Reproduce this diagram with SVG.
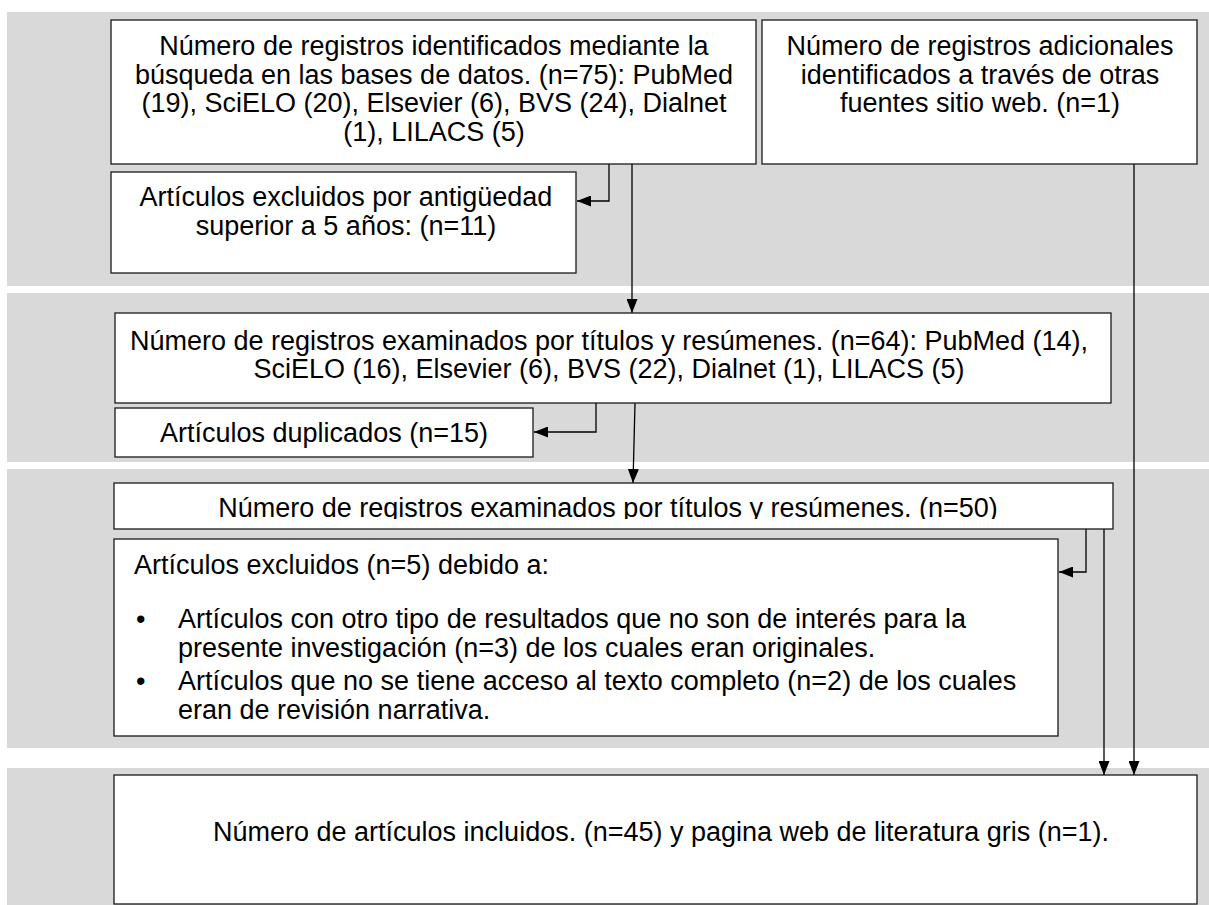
<svg xmlns="http://www.w3.org/2000/svg" width="1209" height="905" viewBox="0 0 1209 905">
<style>
.band{fill:#d9d9d9}
.box{fill:#fff;stroke:#1a1a1a;stroke-width:1.3}
.t{font-family:"Liberation Sans",Arial,sans-serif;font-size:27px;fill:#000}
.c{text-anchor:middle}
.ln{fill:none;stroke:#000;stroke-width:1.3}
</style>
<defs>
<marker id="ah" viewBox="0 0 14 11" refX="14" refY="5.5" markerWidth="14" markerHeight="11" markerUnits="userSpaceOnUse" orient="auto">
<path d="M0,0 L14,5.5 L0,11 z" fill="#000"/>
</marker>
<clipPath id="clip5"><rect x="114" y="483" width="999" height="36"/></clipPath>
</defs>
<rect width="1209" height="905" fill="#fff"/>
<g id="bands">
<rect class="band" x="7" y="12" width="1202" height="274"/>
<rect class="band" x="7" y="293" width="1202" height="169"/>
<rect class="band" x="7" y="469" width="1202" height="279"/>
<rect class="band" x="7" y="768" width="1202" height="137"/>
</g>
<g id="connectors">
<polyline class="ln" points="609,164 609,201 577,201" marker-end="url(#ah)"/>
<line class="ln" x1="632" y1="164" x2="632" y2="313" marker-end="url(#ah)"/>
<line class="ln" x1="1134" y1="164" x2="1134" y2="775" marker-end="url(#ah)"/>
<polyline class="ln" points="596,403 596,432 534,432" marker-end="url(#ah)"/>
<line class="ln" x1="635" y1="403" x2="633" y2="483" marker-end="url(#ah)"/>
<polyline class="ln" points="1086,529 1086,572 1059,572" marker-end="url(#ah)"/>
<line class="ln" x1="1104" y1="529" x2="1104" y2="775" marker-end="url(#ah)"/>
</g>
<g id="n1">
<rect class="box" x="111" y="20" width="645" height="144"/>
<text class="t c" x="434" y="55">Número de registros identificados mediante la</text>
<text class="t c" x="434" y="83.5">búsqueda en las bases de datos. (n=75): PubMed</text>
<text class="t c" x="434" y="112">(19), SciELO (20), Elsevier (6), BVS (24), Dialnet</text>
<text class="t c" x="434" y="140.5">(1), LILACS (5)</text>
</g>
<g id="n2">
<rect class="box" x="762" y="20" width="435" height="144"/>
<text class="t c" x="980" y="55">Número de registros adicionales</text>
<text class="t c" x="980" y="83.5">identificados a través de otras</text>
<text class="t c" x="980" y="112">fuentes sitio web. (n=1)</text>
</g>
<g id="n3">
<rect class="box" x="111" y="172" width="465" height="101"/>
<text class="t c" x="346" y="206">Artículos excluidos por antigüedad</text>
<text class="t c" x="346" y="234.5">superior a 5 años: (n=11)</text>
</g>
<g id="n4">
<rect class="box" x="115" y="313" width="996" height="90"/>
<text class="t c" x="609" y="350">Número de registros examinados por títulos y resúmenes. (n=64): PubMed (14),</text>
<text class="t c" x="609" y="378">SciELO (16), Elsevier (6), BVS (22), Dialnet (1), LILACS (5)</text>
</g>
<g id="n5">
<rect class="box" x="115" y="408" width="418" height="49"/>
<text class="t c" x="324" y="442">Artículos duplicados (n=15)</text>
</g>
<g id="n6">
<rect class="box" x="114" y="483" width="999" height="46"/>
<text class="t c" x="608" y="517" clip-path="url(#clip5)">Número de registros examinados por títulos y resúmenes. (n=50)</text>
</g>
<g id="n7">
<rect class="box" x="114" y="539" width="944" height="197"/>
<text class="t" x="134" y="574">Artículos excluidos (n=5) debido a:</text>
<text class="t" x="136" y="628">•</text>
<text class="t" x="178" y="628">Artículos con otro tipo de resultados que no son de interés para la</text>
<text class="t" x="178" y="657">presente investigación (n=3) de los cuales eran originales.</text>
<text class="t" x="136" y="690">•</text>
<text class="t" x="178" y="690">Artículos que no se tiene acceso al texto completo (n=2) de los cuales</text>
<text class="t" x="178" y="719">eran de revisión narrativa.</text>
</g>
<g id="n8">
<rect class="box" x="114" y="775" width="1083" height="129"/>
<text class="t" x="213" y="841">Número de artículos incluidos. (n=45) y pagina web de literatura gris (n=1).</text>
</g>
</svg>
